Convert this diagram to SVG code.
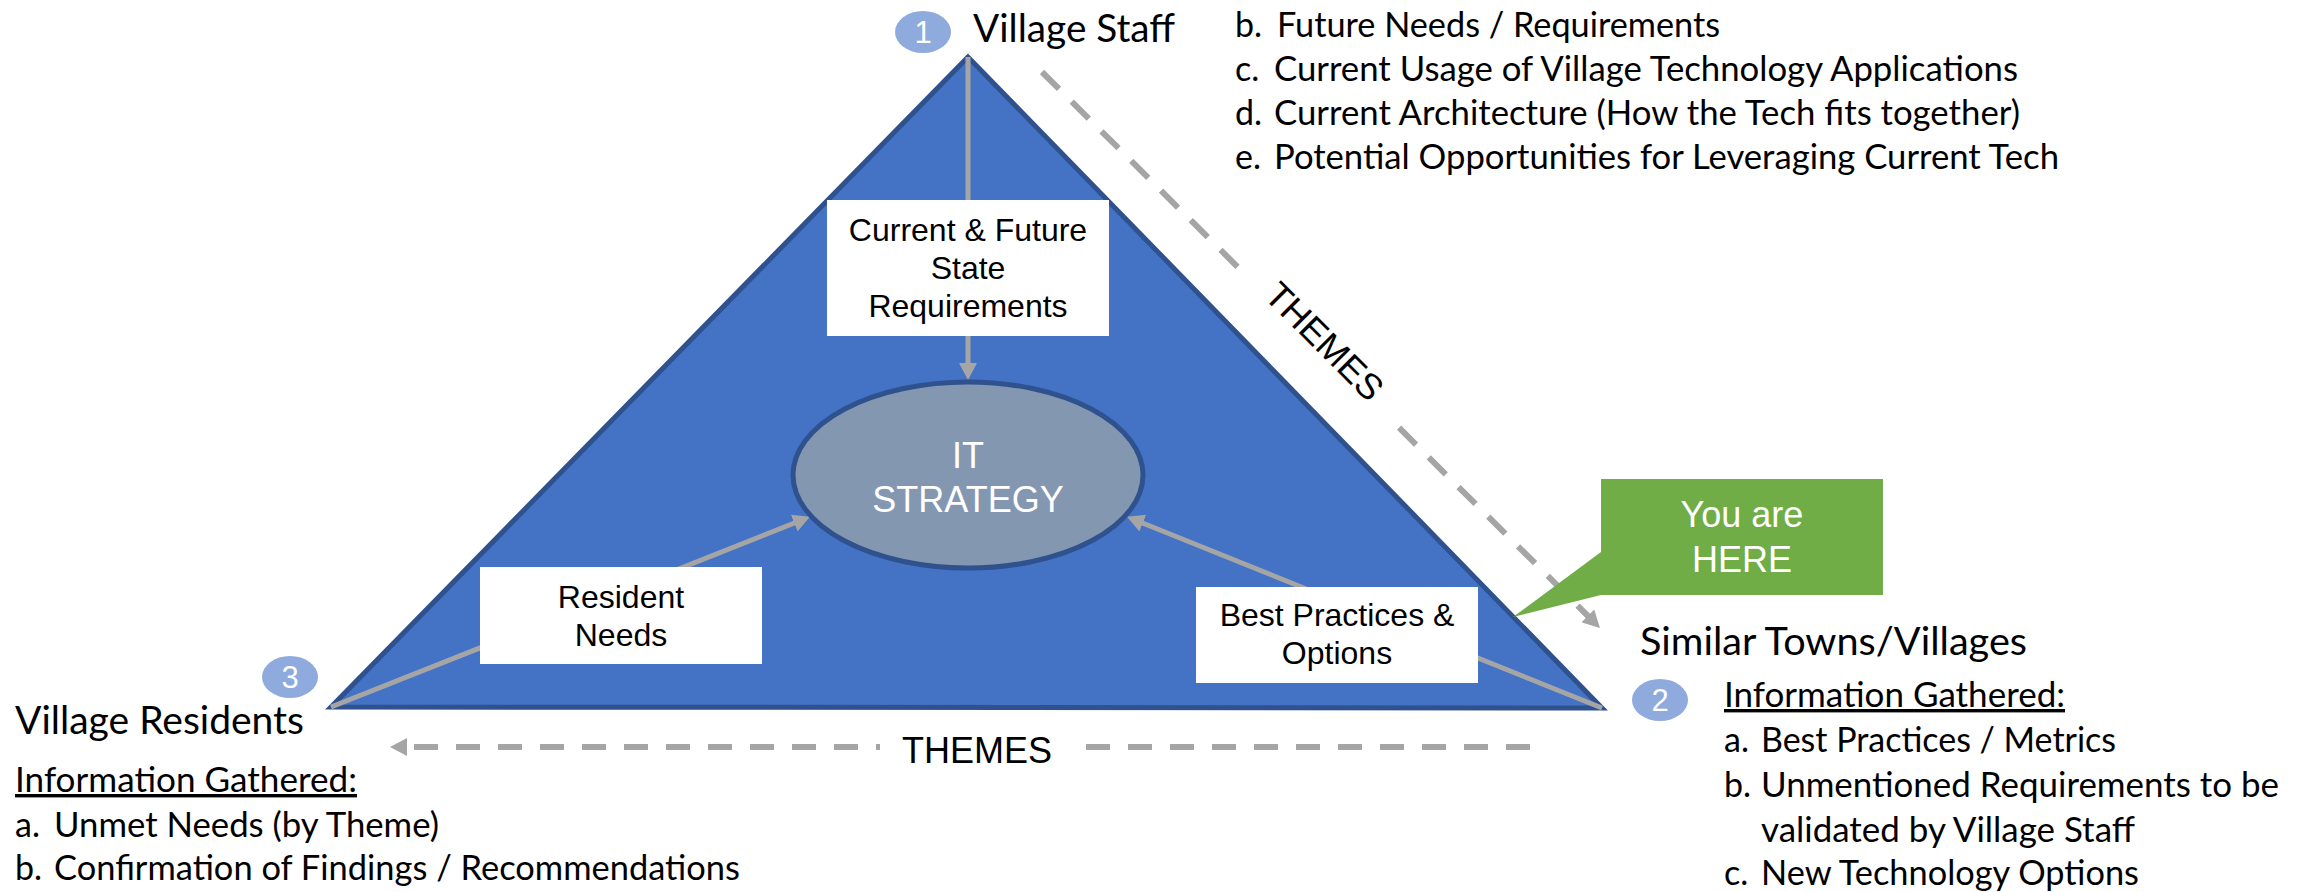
<svg xmlns="http://www.w3.org/2000/svg" width="2308" height="892" viewBox="0 0 2308 892">
  <style>
    .cal { font-family: "Lato", "Open Sans", sans-serif; fill: #000; }
    .head { font-size: 39px; }
    .item { font-size: 34px; }
    .ar { font-family: "Liberation Sans", Arial, sans-serif; }
    .box { fill: #fff; }
    .lbl { font-size: 32px; fill: #000; text-anchor: middle; }
    .wlbl { font-size: 36px; fill: #fff; text-anchor: middle; }
    .num { fill: #8FAADC; }
    .numtxt { font-size: 31px; fill: #fff; text-anchor: middle; }
    .solid { stroke: #A5A5A5; stroke-width: 5; fill: none; }
    .dash { stroke: #A5A5A5; stroke-width: 6; fill: none; stroke-dasharray: 24 18; }
    .themes { font-size: 36px; fill: #000; text-anchor: middle; }
  </style>
  <defs>
    <marker id="arrow" markerUnits="userSpaceOnUse" markerWidth="18" markerHeight="18" viewBox="0 0 18 18" refX="3" refY="9" orient="auto">
      <path d="M0,0 L17,9 L0,18 z" fill="#A5A5A5"/>
    </marker>
  </defs>

  <rect width="2308" height="892" fill="#fff"/>

  <!-- pyramid -->
  <g id="pyramid">
    <polygon points="968,57 331,707 1602,708" fill="#4472C4" stroke="#2F528F" stroke-width="5" stroke-linejoin="miter"/>
  </g>

  <!-- connectors -->
  <g id="connectors">
    <line class="solid" x1="968" y1="57" x2="968" y2="366" marker-end="url(#arrow)"/>
    <line class="solid" x1="331" y1="707" x2="797" y2="522" marker-end="url(#arrow)"/>
    <line class="solid" x1="1602" y1="708" x2="1140" y2="522" marker-end="url(#arrow)"/>
    <line class="dash" x1="1042" y1="72" x2="1590" y2="618" marker-end="url(#arrow)"/>
    <line class="dash" x1="1530" y1="747" x2="404" y2="747" marker-end="url(#arrow)"/>
  </g>

  <!-- connector labels -->
  <g id="label-themes-diagonal" transform="translate(1325,341) rotate(45)">
    <rect x="-111" y="-22" width="210" height="46" fill="#fff"/>
    <text class="ar themes" x="0" y="13">THEMES</text>
  </g>
  <g id="label-themes-bottom">
    <rect x="880" y="726" width="198" height="44" fill="#fff"/>
    <text class="ar themes" x="977" y="763">THEMES</text>
  </g>

  <!-- requirement boxes -->
  <g id="box-current">
    <rect class="box" x="827" y="200" width="282" height="136"/>
    <text class="ar lbl" x="968" y="241">Current &amp; Future</text>
    <text class="ar lbl" x="968" y="279">State</text>
    <text class="ar lbl" x="968" y="317">Requirements</text>
  </g>
  <g id="box-resident">
    <rect class="box" x="480" y="567" width="282" height="97"/>
    <text class="ar lbl" x="621" y="608">Resident</text>
    <text class="ar lbl" x="621" y="646">Needs</text>
  </g>
  <g id="box-practices">
    <rect class="box" x="1196" y="587" width="282" height="96"/>
    <text class="ar lbl" x="1337" y="626">Best Practices &amp;</text>
    <text class="ar lbl" x="1337" y="664">Options</text>
  </g>

  <!-- centre -->
  <g id="it-strategy">
    <ellipse cx="968" cy="475" rx="175" ry="93" fill="#8497B0" stroke="#2F528F" stroke-width="5"/>
    <text class="ar wlbl" x="968" y="468">IT</text>
    <text class="ar wlbl" x="968" y="512">STRATEGY</text>
  </g>

  <!-- callout -->
  <g id="you-are-here">
    <path d="M1601,479 H1883 V595 H1601 L1513,617 L1601,552 Z" fill="#70AD47"/>
    <text class="ar wlbl" x="1742" y="527">You are</text>
    <text class="ar wlbl" x="1742" y="572">HERE</text>
  </g>

  <!-- 1: village staff -->
  <g id="staff">
    <ellipse class="num" cx="923" cy="32" rx="28" ry="21"/>
    <text class="ar numtxt" x="923" y="43">1</text>
    <text class="cal head" x="973" y="42" textLength="202" lengthAdjust="spacingAndGlyphs">Village Staff</text>
    <text class="cal item" y="37"><tspan x="1235">b.</tspan><tspan x="1277" textLength="443" lengthAdjust="spacingAndGlyphs">Future Needs / Requirements</tspan></text>
    <text class="cal item" y="81"><tspan x="1235">c.</tspan><tspan x="1274" textLength="744" lengthAdjust="spacingAndGlyphs">Current Usage of Village Technology Applications</tspan></text>
    <text class="cal item" y="125"><tspan x="1235">d.</tspan><tspan x="1274" textLength="746" lengthAdjust="spacingAndGlyphs">Current Architecture (How the Tech fits together)</tspan></text>
    <text class="cal item" y="169"><tspan x="1235">e.</tspan><tspan x="1274" textLength="785" lengthAdjust="spacingAndGlyphs">Potential Opportunities for Leveraging Current Tech</tspan></text>
  </g>

  <!-- 2: similar towns -->
  <g id="towns">
    <ellipse class="num" cx="1660" cy="700" rx="28" ry="21"/>
    <text class="ar numtxt" x="1660" y="711">2</text>
    <text class="cal head" x="1640" y="655" textLength="387" lengthAdjust="spacingAndGlyphs">Similar Towns/Villages</text>
    <text class="cal item" x="1724" y="707" textLength="341" lengthAdjust="spacingAndGlyphs" text-decoration="underline">Information Gathered:</text>
    <text class="cal item" y="752"><tspan x="1724">a.</tspan><tspan x="1761" textLength="355" lengthAdjust="spacingAndGlyphs">Best Practices / Metrics</tspan></text>
    <text class="cal item" y="797"><tspan x="1724">b.</tspan><tspan x="1761" textLength="518" lengthAdjust="spacingAndGlyphs">Unmentioned Requirements to be</tspan></text>
    <text class="cal item" x="1761" y="842" textLength="374" lengthAdjust="spacingAndGlyphs">validated by Village Staff</text>
    <text class="cal item" y="885"><tspan x="1724">c.</tspan><tspan x="1761" textLength="378" lengthAdjust="spacingAndGlyphs">New Technology Options</tspan></text>
  </g>

  <!-- 3: village residents -->
  <g id="residents">
    <ellipse class="num" cx="290" cy="677" rx="28" ry="21"/>
    <text class="ar numtxt" x="290" y="688">3</text>
    <text class="cal head" x="15" y="734" textLength="289" lengthAdjust="spacingAndGlyphs">Village Residents</text>
    <text class="cal item" x="15" y="792" textLength="342" lengthAdjust="spacingAndGlyphs" text-decoration="underline">Information Gathered:</text>
    <text class="cal item" y="837"><tspan x="15">a.</tspan><tspan x="54" textLength="385" lengthAdjust="spacingAndGlyphs">Unmet Needs (by Theme)</tspan></text>
    <text class="cal item" y="880"><tspan x="15">b.</tspan><tspan x="54" textLength="686" lengthAdjust="spacingAndGlyphs">Confirmation of Findings / Recommendations</tspan></text>
  </g>
</svg>
